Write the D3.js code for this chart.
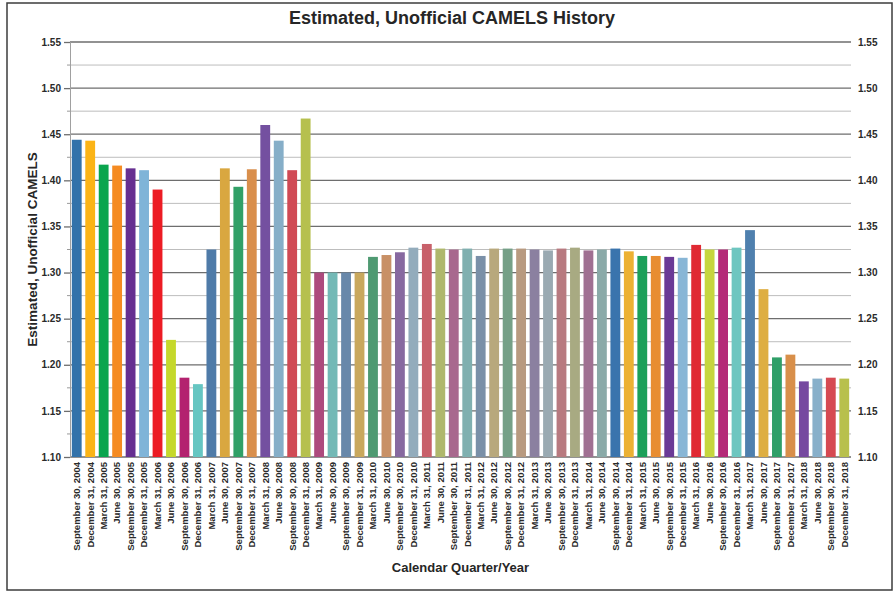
<!DOCTYPE html>
<html>
<head>
<meta charset="utf-8">
<script src="https://cdn.jsdelivr.net/npm/d3@7/dist/d3.min.js"></script>
<style>
  html, body { margin: 0; padding: 0; background: #fff; }
  svg { display: block; }
  text { font-family: "Liberation Sans", Arial, sans-serif; }
</style>
</head>
<body>
<svg id="chart" width="896" height="592"></svg>
<script>
const categories = [
  "September 30, 2004", "December 31, 2004",
  "March 31, 2005", "June 30, 2005", "September 30, 2005", "December 31, 2005",
  "March 31, 2006", "June 30, 2006", "September 30, 2006", "December 31, 2006",
  "March 31, 2007", "June 30, 2007", "September 30, 2007", "December 31, 2007",
  "March 31, 2008", "June 30, 2008", "September 30, 2008", "December 31, 2008",
  "March 31, 2009", "June 30, 2009", "September 30, 2009", "December 31, 2009",
  "March 31, 2010", "June 30, 2010", "September 30, 2010", "December 31, 2010",
  "March 31, 2011", "June 30, 2011", "September 30, 2011", "December 31, 2011",
  "March 31, 2012", "June 30, 2012", "September 30, 2012", "December 31, 2012",
  "March 31, 2013", "June 30, 2013", "September 30, 2013", "December 31, 2013",
  "March 31, 2014", "June 30, 2014", "September 30, 2014", "December 31, 2014",
  "March 31, 2015", "June 30, 2015", "September 30, 2015", "December 31, 2015",
  "March 31, 2016", "June 30, 2016", "September 30, 2016", "December 31, 2016",
  "March 31, 2017", "June 30, 2017", "September 30, 2017", "December 31, 2017",
  "March 31, 2018", "June 30, 2018", "September 30, 2018", "December 31, 2018"
];

const camelsValues = [
  1.444, 1.443,
  1.417, 1.416, 1.413, 1.411,
  1.390, 1.227, 1.186, 1.179,
  1.325, 1.413, 1.393, 1.412,
  1.460, 1.443, 1.411, 1.467,
  1.300, 1.300, 1.300, 1.300,
  1.317, 1.319, 1.322, 1.327,
  1.331, 1.326, 1.325, 1.326,
  1.318, 1.326, 1.326, 1.326,
  1.325, 1.324, 1.326, 1.327,
  1.324, 1.325, 1.326, 1.323,
  1.318, 1.318, 1.317, 1.316,
  1.330, 1.325, 1.325, 1.327,
  1.346, 1.282, 1.208, 1.211,
  1.182, 1.185, 1.186, 1.185
];

const barColors = [
  "#3272aa", "#fbb416", "#0aa54e", "#f58b22", "#662f91", "#7fb4d8", "#ec1c24", "#c5d82b", "#b3226f", "#66c6c2",
  "#4f7ba8", "#d9a740", "#31a067", "#d98f4c", "#7450a0", "#86aec8", "#d04a55", "#b6c04e", "#ad4a7d", "#73b9b6",
  "#6888aa", "#c9a85d", "#4f9a72", "#c89066", "#8769a0", "#93acbc", "#c8606a", "#afb86c", "#a8688e", "#80b0b0",
  "#7a90a8", "#b8a87c", "#75a087", "#b89a80", "#8b80a0", "#9aaab2", "#b87a80", "#a8aa82", "#a07092", "#8aaaa8",
  "#3a74ad", "#ecb133", "#1ca05a", "#e88d31", "#6a3a96", "#88b6d6", "#e02a33", "#c6d63e", "#b42a78", "#6ec6c0",
  "#4f80ae", "#deae42", "#2f9f68", "#d88f4a", "#7649a0", "#88b0ca", "#d64a52", "#b8c04c"
];

const majorTicks = [1.10, 1.15, 1.20, 1.25, 1.30, 1.35, 1.40, 1.45, 1.50, 1.55];
const minorTicks = [1.125, 1.175, 1.225, 1.275, 1.325, 1.375, 1.425, 1.475, 1.525];

const titleText = "Estimated, Unofficial CAMELS History";
const yTitleText = "Estimated, Unofficial CAMELS";
const xTitleText = "Calendar Quarter/Year";

const data = categories.map((c, i) => ({ cat: c, value: camelsValues[i], color: barColors[i] }));

const svg = d3.select("#chart");
const W = 896, H = 592;
const plot = { left: 70, right: 851, top: 42, bottom: 457 };

// frame
svg.append("rect").attr("x", 0).attr("y", 0).attr("width", W).attr("height", H).attr("fill", "#fff");
svg.append("rect")
  .attr("x", 7).attr("y", 3).attr("width", 885).attr("height", 587)
  .attr("fill", "none").attr("stroke", "#3c3c3c").attr("stroke-width", 1.5);

const x = d3.scaleBand()
  .domain(categories)
  .range([plot.left, plot.right])
  .paddingInner(0.27)
  .paddingOuter(0.135);

const y = d3.scaleLinear()
  .domain([1.10, 1.55])
  .range([plot.bottom, plot.top]);

// minor gridlines
svg.append("g").selectAll("line").data(minorTicks).join("line")
  .attr("x1", plot.left).attr("x2", plot.right)
  .attr("y1", d => y(d)).attr("y2", d => y(d))
  .attr("stroke", "#bdbdbd").attr("stroke-width", 1);

// minor ticks on left
svg.append("g").selectAll("line").data(minorTicks).join("line")
  .attr("x1", plot.left - 3).attr("x2", plot.left)
  .attr("y1", d => y(d)).attr("y2", d => y(d))
  .attr("stroke", "#9a9a9a").attr("stroke-width", 1);

// major gridlines
svg.append("g").selectAll("line").data(majorTicks).join("line")
  .attr("x1", plot.left).attr("x2", plot.right)
  .attr("y1", d => y(d)).attr("y2", d => y(d))
  .attr("stroke", "#6e6e6e").attr("stroke-width", 1.3);

// bars
svg.append("g").selectAll("rect").data(data).join("rect")
  .attr("x", d => x(d.cat))
  .attr("width", x.bandwidth())
  .attr("y", d => y(d.value))
  .attr("height", d => y(1.10) - y(d.value))
  .attr("fill", d => d.color);

// left axis
const yAxisL = svg.append("g")
  .attr("transform", `translate(${plot.left},0)`)
  .call(d3.axisLeft(y).tickValues(majorTicks).tickSize(6).tickPadding(3).tickFormat(d3.format(".2f")));
yAxisL.select(".domain").attr("stroke", "#a0a0a0").attr("stroke-width", 1);
yAxisL.selectAll(".tick line").attr("stroke", "#6e6e6e").attr("stroke-width", 1.3);
yAxisL.selectAll(".tick text")
  .attr("fill", "#2a2a2a")
  .style("font-size", "10px").style("font-weight", "bold");

// right axis
const yAxisR = svg.append("g")
  .attr("transform", `translate(${plot.right},0)`)
  .call(d3.axisRight(y).tickValues(majorTicks).tickSize(0).tickPadding(7).tickFormat(d3.format(".2f")));
yAxisR.select(".domain").remove();
yAxisR.selectAll(".tick text")
  .attr("fill", "#2a2a2a")
  .style("font-size", "10px").style("font-weight", "bold");

// bottom axis
const xAxis = svg.append("g")
  .attr("transform", `translate(0,${plot.bottom})`)
  .call(d3.axisBottom(x).tickSize(0));
xAxis.select(".domain").remove();
xAxis.selectAll(".tick text")
  .attr("transform", "rotate(-90)")
  .attr("x", -5).attr("y", 0).attr("dy", "0.35em")
  .style("text-anchor", "end")
  .attr("fill", "#2a2a2a")
  .style("font-size", "9.5px").style("font-weight", "bold");

// titles
svg.append("text")
  .attr("x", 452).attr("y", 24)
  .attr("text-anchor", "middle")
  .attr("fill", "#262626")
  .style("font-size", "18px").style("font-weight", "bold")
  .text(titleText);

svg.append("text")
  .attr("transform", `translate(37,${(plot.top + plot.bottom) / 2}) rotate(-90)`)
  .attr("text-anchor", "middle")
  .attr("fill", "#262626")
  .style("font-size", "13.5px").style("font-weight", "bold")
  .text(yTitleText);

svg.append("text")
  .attr("x", (plot.left + plot.right) / 2).attr("y", 572)
  .attr("text-anchor", "middle")
  .attr("fill", "#262626")
  .style("font-size", "13px").style("font-weight", "bold")
  .text(xTitleText);
</script>
</body>
</html>
